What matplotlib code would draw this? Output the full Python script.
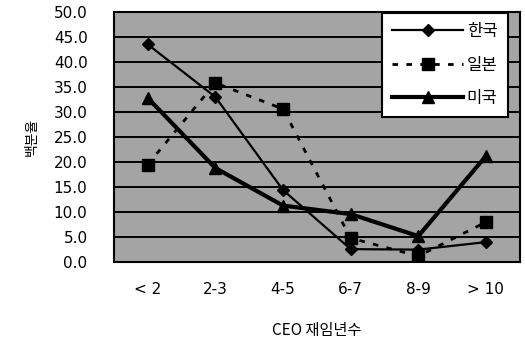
import matplotlib.pyplot as plt

plt.rcParams['font.family'] = ['Noto Sans CJK KR', 'DejaVu Sans']

categories = ['< 2', '2-3', '4-5', '6-7', '8-9', '> 10']
korea = [43.5, 33.0, 14.4, 2.6, 2.5, 4.0]
japan = [19.5, 35.8, 30.6, 4.8, 1.2, 8.0]
usa = [32.8, 18.8, 11.3, 9.6, 5.2, 21.2]
yticks = [0, 5, 10, 15, 20, 25, 30, 35, 40, 45, 50]

fig = plt.figure(figsize=(5.25, 3.4), dpi=100)
ax = fig.add_axes([0.217, 0.229, 0.773, 0.736])
ax.set_facecolor('#a4a4a4')

x = range(len(categories))
ax.plot(x, korea, color='black', lw=1.6, marker='D', ms=6, label='한국')
ax.plot(x, japan, color='black', lw=2, ls=(0, (2, 3)), marker='s', ms=9, label='일본')
ax.plot(x, usa, color='black', lw=3, marker='^', ms=8, label='미국')

for y in yticks[1:-1]:
    ax.axhline(y, color='black', lw=1.4, zorder=1)

ax.set_xlim(-0.5, 5.5)
ax.set_ylim(0, 50)
ax.set_xticks(list(x))
ax.set_xticklabels(categories, fontsize=11, family='DejaVu Sans')
ax.set_yticks(yticks)
ax.set_yticklabels([f'{v:.1f}' for v in yticks], fontsize=11, family='DejaVu Sans')
ax.tick_params(length=0, pad=14)
ax.tick_params(axis='y', pad=19)
for s in ax.spines.values():
    s.set_linewidth(1.5)

ax.set_ylabel('백분율', fontsize=10)
ax.yaxis.set_label_coords(-0.185, 0.5)
ax.set_xlabel('CEO 재임년수', fontsize=11, labelpad=18)

leg = ax.legend(loc='upper right', bbox_to_anchor=(0.97, 0.996), borderaxespad=0,
                handlelength=4.3, fontsize=12, frameon=True,
                fancybox=False, edgecolor='black', framealpha=1,
                labelspacing=1.0, handletextpad=0.2, borderpad=0.6)
leg.get_frame().set_linewidth(1.5)

plt.savefig('out.png', dpi=100)
